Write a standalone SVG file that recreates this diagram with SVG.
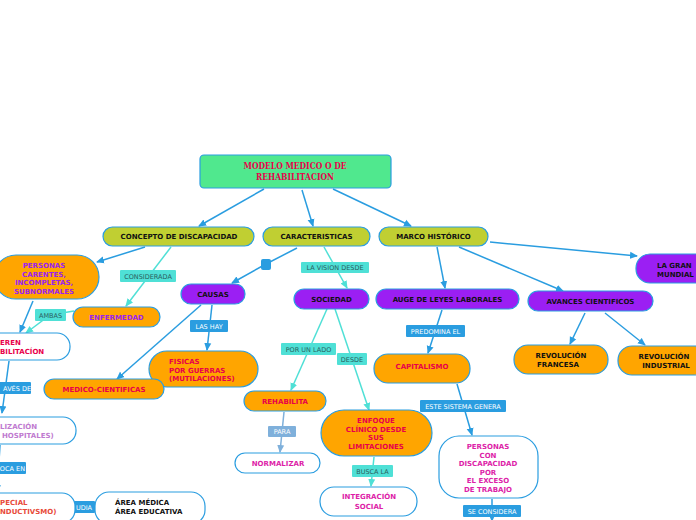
<svg xmlns="http://www.w3.org/2000/svg" width="696" height="520" viewBox="0 0 696 520">
<defs>
<marker id="ab" markerUnits="userSpaceOnUse" markerWidth="8" markerHeight="8" viewBox="0 0 8 8" refX="7" refY="4" orient="auto"><path d="M0,0.5 L8,4 L0,7.5 Z" fill="#2a9de0"/></marker>
<marker id="ac" markerUnits="userSpaceOnUse" markerWidth="8" markerHeight="8" viewBox="0 0 8 8" refX="7" refY="4" orient="auto"><path d="M0,0.5 L8,4 L0,7.5 Z" fill="#4fe0d6"/></marker>
<marker id="al" markerUnits="userSpaceOnUse" markerWidth="8" markerHeight="8" viewBox="0 0 8 8" refX="7" refY="4" orient="auto"><path d="M0,0.5 L8,4 L0,7.5 Z" fill="#7fb0db"/></marker>
<style>
.cb{stroke:#2a9de0;stroke-width:1.5;fill:none;marker-end:url(#ab)}
.cc{stroke:#4fe0d6;stroke-width:1.5;fill:none;marker-end:url(#ac)}
.cl{stroke:#7fb0db;stroke-width:1.5;fill:none;marker-end:url(#al)}
.nb{stroke:#2a9de0;stroke-width:1.2}
.yg{fill:#c0cf32}
.or{fill:#ffa500}
.pu{fill:#9b1ff3}
.wh{fill:#ffffff}
text{font-family:"DejaVu Sans",Verdana,sans-serif;font-weight:bold;font-size:7px;text-anchor:middle}
.lbB{fill:#2a9de0}
.lbC{fill:#4fe0d6}
.lbL{fill:#7fb0db}
.lt{font-weight:normal;font-size:6.5px;fill:#ffffff}
.ltc{font-weight:normal;font-size:6.5px;fill:#2b5e5e}
.k{fill:#111111}
.r{fill:#e8004a}
.p{fill:#9b1ff0}
.m{fill:#dd1ea8}
.lp{fill:#c07ad0}
.t{fill:#e84a3a}
</style>
</defs>

<g id="connectors">
<line class="cb" x1="264" y1="189" x2="199" y2="226"/>
<line class="cb" x1="302" y1="190" x2="313" y2="226"/>
<line class="cb" x1="333" y1="189" x2="411" y2="226"/>
<line class="cb" x1="145" y1="247" x2="97" y2="262"/>
<line class="cc" x1="171" y1="247" x2="126" y2="306"/>
<polyline class="cc" points="74,311 50,315 26,333"/>
<line class="cb" x1="33" y1="301" x2="20" y2="332"/>
<line class="cb" x1="9" y1="361" x2="2" y2="413"/>
<line class="cb" x1="0" y1="445" x2="-3" y2="492"/>
<line stroke="#2a9de0" stroke-width="1.5" x1="75" y1="507" x2="95" y2="507"/>
<polyline class="cb" points="297,248 266,264 232,283"/>
<line class="cb" x1="201" y1="305" x2="117" y2="379"/>
<line class="cb" x1="212" y1="305" x2="207" y2="350"/>
<line class="cc" x1="324" y1="247" x2="347" y2="288"/>
<line class="cc" x1="327" y1="309" x2="291" y2="390"/>
<line class="cc" x1="335" y1="309" x2="369" y2="410"/>
<line class="cl" x1="284" y1="412" x2="280" y2="452"/>
<line class="cc" x1="374" y1="457" x2="371" y2="486"/>
<line class="cb" x1="437" y1="247" x2="445" y2="288"/>
<line class="cb" x1="459" y1="247" x2="563" y2="291"/>
<line class="cb" x1="490" y1="242" x2="637" y2="256"/>
<line class="cb" x1="442" y1="310" x2="428" y2="353"/>
<line class="cb" x1="457" y1="384" x2="472" y2="435"/>
<line class="cb" x1="492" y1="499" x2="492" y2="521"/>
<line class="cb" x1="585" y1="313" x2="570" y2="344"/>
<line class="cb" x1="605" y1="313" x2="645" y2="345"/>
<rect x="261" y="259" width="10" height="11" rx="2" fill="#2a9de0"/>

<rect class="lbC" x="120" y="270" width="56" height="12" rx="1"/><text class="ltc" x="148" y="278.5">CONSIDERADA</text>
<rect class="lbC" x="35" y="309" width="31" height="12" rx="1"/><text class="ltc" x="50.5" y="317.5">AMBAS</text>
<rect class="lbB" x="-10" y="382" width="41" height="12" rx="1"/><text class="lt" x="31" y="390.5" style="text-anchor:end">AVÉS DE</text>
<rect class="lbB" x="-10" y="462" width="36" height="12" rx="1"/><text class="lt" x="25" y="470.5" style="text-anchor:end">OCA EN</text>
<rect class="lbB" x="72" y="501" width="23" height="12" rx="1"/><text class="lt" x="84" y="509.5">UDIA</text>
<rect class="lbB" x="190" y="320" width="38" height="12" rx="1"/><text class="lt" x="209" y="328.5">LAS HAY</text>
<rect class="lbC" x="301" y="262" width="68" height="11" rx="1"/><text class="ltc" x="335" y="270">LA VISION DESDE</text>
<rect class="lbC" x="281" y="343" width="55" height="12" rx="1"/><text class="ltc" x="308.5" y="351.5">POR UN LADO</text>
<rect class="lbC" x="337" y="353" width="30" height="12" rx="1"/><text class="ltc" x="352" y="361.5">DESDE</text>
<rect class="lbL" x="268" y="426" width="28" height="11" rx="1"/><text class="lt" x="282" y="434">PARA</text>
<rect class="lbC" x="352" y="465" width="41" height="12" rx="1"/><text class="ltc" x="372.5" y="473.5">BUSCA LA</text>
<rect class="lbB" x="406" y="325" width="59" height="12" rx="1"/><text class="lt" x="435.5" y="333.5">PREDOMINA EL</text>
<rect class="lbB" x="420" y="400" width="86" height="12" rx="1"/><text class="lt" x="463" y="408.5">ESTE SISTEMA GENERA</text>
<rect class="lbB" x="463" y="505" width="58" height="12" rx="1"/><text class="lt" x="492" y="513.5">SE CONSIDERA</text>
</g>

<g id="title">
<rect x="200" y="155" width="191" height="33" rx="4" fill="#50e88e" class="nb"/>
<text x="295" y="169" style="font-family:'DejaVu Serif',serif;font-size:9px;fill:#e8004a" textLength="103" lengthAdjust="spacingAndGlyphs">MODELO MEDICO O DE</text>
<text x="295" y="180" style="font-family:'DejaVu Serif',serif;font-size:9px;fill:#e8004a" textLength="78" lengthAdjust="spacingAndGlyphs">REHABILITACION</text>
</g>

<g id="concepto"><rect class="nb yg" x="103" y="227" width="151" height="19" rx="9.5"/><text class="k" x="179" y="239">CONCEPTO DE DISCAPACIDAD</text></g>
<g id="caracteristicas"><rect class="nb yg" x="263" y="227" width="107" height="19" rx="9.5"/><text class="k" x="316.5" y="239">CARACTERISTICAS</text></g>
<g id="marco"><rect class="nb yg" x="379" y="227" width="109" height="19" rx="9.5"/><text class="k" x="433.5" y="239">MARCO HISTÓRICO</text></g>

<g id="personas-carentes"><rect class="nb or" x="-6" y="255" width="105" height="44" rx="22"/>
<text class="p" x="44" y="268">PERSONAS</text><text class="p" x="44" y="276.5">CARENTES,</text><text class="p" x="44" y="285">INCOMPLETAS,</text><text class="p" x="44" y="293.5">SUBNORMALES</text></g>
<g id="enfermedad"><rect class="nb or" x="73" y="307" width="87" height="20" rx="10"/><text class="p" x="116.5" y="320">ENFERMEDAD</text></g>
<g id="rehabilitacion"><rect class="nb wh" x="-60" y="333" width="130" height="27" rx="13"/>
<text class="r" x="0" y="345" style="text-anchor:start">EREN</text><text class="r" x="0" y="354" style="text-anchor:start">BILITACÍON</text></g>
<g id="hospitales"><rect class="nb wh" x="-60" y="417" width="136" height="27" rx="13"/>
<text class="lp" x="0" y="429" style="text-anchor:start">LIZACIÓN</text><text class="lp" x="2" y="438" style="text-anchor:start">HOSPITALES)</text></g>
<g id="especial"><rect class="nb wh" x="-60" y="493" width="135" height="30" rx="13"/>
<text class="t" x="0" y="505" style="text-anchor:start">PECIAL</text><text class="t" x="0" y="514" style="text-anchor:start">NDUCTIVSMO)</text></g>
<g id="area"><rect class="nb wh" x="95" y="492" width="110" height="32" rx="14"/>
<text class="k" x="115" y="505" style="text-anchor:start">ÁREA MÉDICA</text><text class="k" x="115" y="514" style="text-anchor:start">ÁREA EDUCATIVA</text></g>

<g id="causas"><rect class="nb pu" x="181" y="284" width="64" height="20" rx="10"/><text class="k" x="213" y="297">CAUSAS</text></g>
<g id="fisicas"><rect class="nb or" x="149" y="351" width="109" height="36" rx="18"/>
<text class="r" x="169" y="364" style="text-anchor:start">FISICAS</text><text class="r" x="169" y="372.5" style="text-anchor:start"> POR GUERRAS</text><text class="r" x="169" y="381" style="text-anchor:start">(MUTILACIONES)</text></g>
<g id="medico"><rect class="nb or" x="44" y="379" width="120" height="20" rx="10"/><text class="r" x="104" y="392">MEDICO-CIENTIFICAS</text></g>

<g id="sociedad"><rect class="nb pu" x="294" y="289" width="75" height="20" rx="10"/><text class="k" x="331.5" y="302">SOCIEDAD</text></g>
<g id="rehabilita"><rect class="nb or" x="244" y="391" width="82" height="20" rx="10"/><text class="r" x="285" y="404">REHABILITA</text></g>
<g id="normalizar"><rect class="nb wh" x="235" y="453" width="85" height="20" rx="10"/><text class="m" x="278" y="466">NORMALIZAR</text></g>
<g id="enfoque"><rect class="nb or" x="321" y="410" width="111" height="46" rx="23"/>
<text class="r" x="376" y="423">ENFOQUE</text><text class="r" x="376" y="431.5">CLÍNICO DESDE</text><text class="r" x="376" y="440">SUS</text><text class="r" x="376" y="448.5">LIMITACIONES</text></g>
<g id="integracion"><rect class="nb wh" x="320" y="487" width="97" height="29" rx="14"/>
<text class="m" x="369" y="499">INTEGRACIÓN</text><text class="m" x="369" y="509">SOCIAL</text></g>

<g id="auge"><rect class="nb pu" x="376" y="289" width="143" height="20" rx="10"/><text class="k" x="447.5" y="302">AUGE DE LEYES LABORALES</text></g>
<g id="capitalismo"><rect class="nb or" x="374" y="354" width="96" height="29" rx="14"/><text class="r" x="422" y="368.5">CAPITALISMO</text></g>
<g id="personas-con"><rect class="nb wh" x="439" y="436" width="99" height="62" rx="20"/>
<text class="m" x="488" y="449">PERSONAS</text><text class="m" x="488" y="457.5">CON</text><text class="m" x="488" y="466">DISCAPACIDAD</text><text class="m" x="488" y="474.5">POR</text><text class="m" x="488" y="483">EL EXCESO</text><text class="m" x="488" y="491.5">DE TRABAJO</text></g>

<g id="avances"><rect class="nb pu" x="528" y="291" width="125" height="20" rx="10"/><text class="k" x="590.5" y="304">AVANCES CIENTIFICOS</text></g>
<g id="francesa"><rect class="nb or" x="514" y="345" width="94" height="29" rx="14"/>
<text class="k" x="561" y="357.5">REVOLUCIÓN</text><text class="k" x="558" y="366.5">FRANCESA</text></g>
<g id="industrial"><rect class="nb or" x="618" y="346" width="90" height="29" rx="14"/>
<text class="k" x="664" y="358.5">REVOLUCIÓN</text><text class="k" x="666" y="367.5">INDUSTRIAL</text></g>
<g id="gran"><rect class="nb pu" x="636" y="254" width="75" height="29" rx="14"/>
<text class="k" x="657" y="267.5" style="text-anchor:start">LA GRAN</text><text class="k" x="657" y="276.5" style="text-anchor:start">MUNDIAL</text></g>
</svg>
